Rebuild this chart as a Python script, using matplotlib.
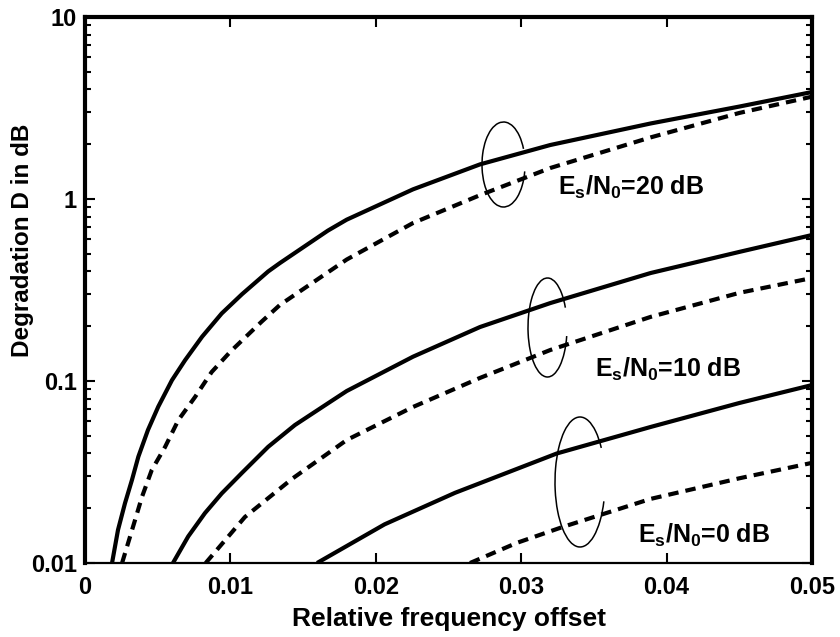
import matplotlib
matplotlib.use("Agg")
import matplotlib.pyplot as plt
from matplotlib.patches import Arc
from matplotlib.ticker import FixedLocator, LogLocator, NullFormatter

plt.rcParams['font.family'] = ['Liberation Sans', 'DejaVu Sans']
plt.rcParams['font.weight'] = 'bold'
plt.rcParams['mathtext.fontset'] = 'custom'
plt.rcParams['mathtext.rm'] = 'Liberation Sans:bold'
plt.rcParams['mathtext.it'] = 'Liberation Sans:bold'
plt.rcParams['mathtext.bf'] = 'Liberation Sans:bold'

# ---- data ----
x_s20 = [0.00186, 0.00227, 0.00275, 0.00323, 0.00367, 0.00433, 0.00504, 0.00598,
         0.00688, 0.00805, 0.0094, 0.0108, 0.0126, 0.01341, 0.0167, 0.0180,
         0.02256, 0.02717, 0.032, 0.0389, 0.045, 0.05]
y_s20 = [0.01, 0.0152, 0.0213, 0.0286, 0.0384, 0.0538, 0.0723, 0.101,
         0.130, 0.175, 0.235, 0.30, 0.40, 0.445, 0.67, 0.77,
         1.13, 1.55, 1.98, 2.60, 3.22, 3.87]

x_d20 = [0.00255, 0.00344, 0.00392, 0.00459, 0.0055, 0.00642, 0.00757, 0.00871,
         0.0100, 0.01215, 0.01341, 0.0180, 0.02256, 0.02717, 0.032, 0.0389,
         0.045, 0.05]
y_d20 = [0.01, 0.0172, 0.0231, 0.0324, 0.0433, 0.061, 0.0817, 0.112,
         0.145, 0.212, 0.262, 0.465, 0.738, 1.05, 1.48, 2.18,
         2.97, 3.65]

x_s10 = [0.00605, 0.0071, 0.00825, 0.0094, 0.0108, 0.0126, 0.01444, 0.01685,
         0.0180, 0.02256, 0.02717, 0.032, 0.0389, 0.045, 0.05]
y_s10 = [0.01, 0.014, 0.0188, 0.0241, 0.0313, 0.0435, 0.0573, 0.0767,
         0.0881, 0.136, 0.198, 0.268, 0.392, 0.512, 0.634]

x_d10 = [0.0083, 0.011, 0.01424, 0.0180, 0.02256, 0.02717, 0.032, 0.0389, 0.045, 0.05]
y_d10 = [0.01, 0.0179, 0.029, 0.0474, 0.072, 0.104, 0.148, 0.225, 0.305, 0.368]

x_s0 = [0.01596, 0.0206, 0.02545, 0.03246, 0.0389, 0.045, 0.05]
y_s0 = [0.01, 0.0163, 0.0243, 0.0400, 0.0559, 0.0757, 0.095]

x_d0 = [0.02648, 0.0297, 0.03288, 0.0389, 0.045, 0.05]
y_d0 = [0.01, 0.0129, 0.0158, 0.0225, 0.0292, 0.0355]

x_ticks = [0, 0.01, 0.02, 0.03, 0.04, 0.05]
x_ticklabels = ['0', '0.01', '0.02', '0.03', '0.04', '0.05']
y_ticks = [0.01, 0.1, 1, 10]
y_ticklabels = ['0.01', '0.1', '1', '10']
labels = [r'$E_s/N_0$=20 dB', r'$E_s/N_0$=10 dB', r'$E_s/N_0$=0 dB']

W, H = 840, 637
fig = plt.figure(figsize=(W / 100, H / 100), dpi=100)
ax = fig.add_axes([85 / W, 1 - 563 / H, (812 - 85) / W, (563 - 17) / H])

lw = 3.0
dash = (0, (2.5, 1.7))
for xs, ys in [(x_s20, y_s20), (x_s10, y_s10), (x_s0, y_s0)]:
    ax.plot(xs, ys, color='black', lw=lw, solid_capstyle='butt',
            solid_joinstyle='round')
for xs, ys in [(x_d20, y_d20), (x_d10, y_d10), (x_d0, y_d0)]:
    ax.plot(xs, ys, color='black', lw=lw, linestyle=dash, dash_capstyle='butt',
            dash_joinstyle='round')

ax.set_yscale('log')
ax.set_xlim(0, 0.05)
ax.set_ylim(0.01, 10)
ax.xaxis.set_major_locator(FixedLocator(x_ticks))
ax.set_xticklabels(x_ticklabels)
ax.yaxis.set_major_locator(FixedLocator(y_ticks))
ax.set_yticklabels(y_ticklabels)
ax.yaxis.set_minor_locator(LogLocator(base=10, subs=range(2, 10)))
ax.yaxis.set_minor_formatter(NullFormatter())

ax.tick_params(axis='both', which='major', direction='in', length=7, width=1.5,
               labelsize=17, top=True, right=True)
ax.tick_params(axis='y', which='minor', direction='in', length=4, width=1.5,
               right=True, left=True)
ax.tick_params(axis='x', which='major', pad=9)
ax.tick_params(axis='y', which='major', pad=6)
for t in ax.get_xticklabels() + ax.get_yticklabels():
    t.set_fontweight('bold')

for side, w in [('left', 3.0), ('top', 3.0), ('right', 3.0), ('bottom', 1.6)]:
    ax.spines[side].set_linewidth(w)

ax.set_xlabel('Relative frequency offset', fontsize=19, fontweight='bold', labelpad=6)
fig.text(23 / W, 1 - 240 / H, 'Degradation D in dB', rotation=90, ha='center',
         va='center', fontsize=17.5, fontweight='bold')

# curve group labels
label_pos = [(558, 195), (595, 377), (638, 543)]
for (px, py), s in zip(label_pos, labels):
    fig.text(px / W, 1 - py / H, s, fontsize=18, fontweight='bold',
             ha='left', va='baseline')

# hand-drawn-like loops around curve pairs
ell = [((503.5, 164.5), 43, 85, 38, 342),
       ((547.5, 327.5), 39, 99, 48, 336),
       ((580, 482), 50, 130, 58, 321)]
for (cx, cy), w, h, t1, t2 in ell:
    arc = Arc((cx / 100, (H - cy) / 100), w / 100, h / 100, theta1=t1, theta2=t2,
              transform=fig.dpi_scale_trans, color='black', lw=1.1)
    fig.add_artist(arc)

fig.savefig('out.png', dpi=100)
